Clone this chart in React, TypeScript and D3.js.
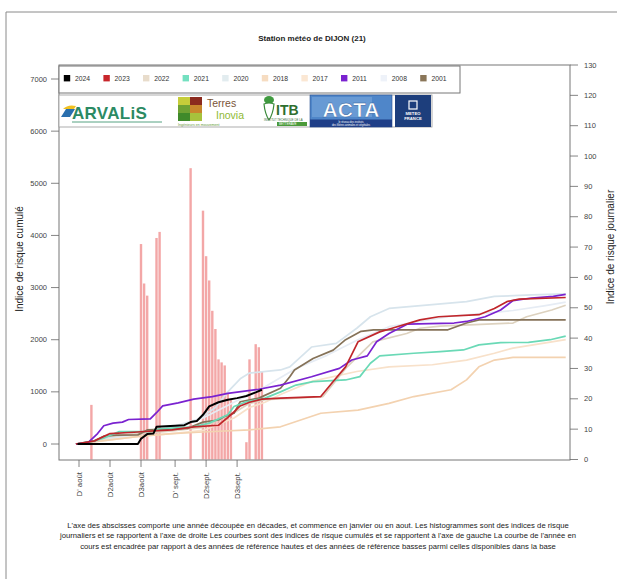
import React from 'react';
import * as d3 from 'd3';

const W = 617;
const H = 579;

// ---- data ----
const years = ['2024', '2023', '2022', '2021', '2020', '2018', '2017', '2011', '2008', '2001'];
const legendColors = ['#000000', '#c8262b', '#e8dccb', '#74e0c0', '#e2ecef', '#f6dcc1', '#fbe7d3', '#7a22d0', '#eef2f9', '#8a7659'];
const lineColors = ['#000000', '#c0262b', '#ddd2bf', '#6ad9b6', '#d7e4ec', '#f3d2b0', '#f8e1ca', '#7a22d0', '#e6ecf4', '#857258'];

const xTickDays = [0, 10, 20, 31, 41, 51];
const xTickLabels = ["D' août", 'D2août', 'D3août', "D' sept.", 'D2sept.', 'D3sept.'];
const leftTicks = [0, 1000, 2000, 3000, 4000, 5000, 6000, 7000];
const rightTicks = [0, 10, 20, 30, 40, 50, 60, 70, 80, 90, 100, 110, 120, 130];

const barDays = [4, 20, 21, 22, 25, 26, 36, 40, 41, 42, 43, 44, 45, 46, 47, 48, 49, 54, 55, 57, 58, 59];
const barValues = [18, 71, 58, 54, 73, 75, 96, 82, 67, 59, 49, 43, 33, 32, 31, 22, 20, 5.7, 33, 38, 37, 29];

const s2024 = [[-0.5, 0], [19, 0], [20, 100], [22, 190], [24, 200], [25, 330], [34, 360], [36, 420], [38, 440], [40, 560], [42, 720], [45, 800], [48, 850], [51, 880], [54, 920], [57, 990], [59, 1040]];
const s2023 = [[-1, 0], [5, 60], [10, 200], [19, 230], [24, 250], [30, 270], [37, 330], [45, 360], [49, 560], [52, 730], [55, 800], [59, 860], [65, 880], [78, 910], [82, 1200], [86, 1480], [90, 1960], [97, 2150], [101, 2220], [110, 2380], [116, 2440], [129, 2480], [134, 2600], [138, 2730], [142, 2780], [157, 2810]];
const s2022 = [[-1, 0], [5, 50], [10, 150], [20, 200], [30, 250], [40, 320], [50, 600], [55, 780], [60, 850], [70, 880], [78.7, 910], [86.5, 1480], [94.8, 1960], [105.7, 2120], [110, 2220], [116.5, 2260], [140, 2320], [144.4, 2440], [152.5, 2570], [157, 2660]];
const s2021 = [[-1, 0], [5, 60], [8, 115], [13, 237], [23, 240], [26, 290], [37, 330], [42, 400], [48, 560], [50, 720], [54, 810], [60, 880], [65, 1000], [70, 1130], [75.5, 1196], [86, 1228], [90.6, 1292], [94, 1548], [97, 1689], [108, 1740], [116.5, 1772], [124, 1804], [129, 1900], [136, 1945], [145, 1950], [152, 2000], [157, 2070]];
const s2020 = [[-1, 0], [5, 50], [10, 120], [20, 220], [30, 320], [38, 450], [44, 700], [48, 1000], [52, 1250], [55, 1360], [65, 1420], [68, 1480], [75, 1860], [83, 1930], [89.6, 2220], [94, 2440], [100, 2600], [113, 2670], [125, 2730], [134, 2830], [146, 2860], [157, 2880]];
const s2018 = [[-1, 0], [10, 80], [20, 150], [30, 200], [40, 230], [55, 270], [65, 330], [78, 590], [90, 650], [100, 780], [108, 910], [120, 1040], [125, 1230], [129, 1480], [134, 1610], [140, 1660], [157, 1660]];
const s2017 = [[-1, 0], [10, 80], [20, 150], [30, 200], [40, 260], [50, 500], [55, 700], [60, 800], [65, 950], [75, 1200], [89.6, 1390], [100, 1480], [114, 1520], [125, 1610], [134, 1740], [140, 1840], [152.5, 1960], [157, 2000]];
const s2011 = [[-1, 0], [3, 30], [6, 200], [8, 350], [11, 400], [14, 420], [16, 470], [23, 480], [25, 600], [27, 730], [32, 790], [37, 860], [43, 910], [48, 970], [58, 1050], [65, 1130], [75, 1290], [84, 1450], [88, 1610], [93, 1690], [96, 1960], [100, 2120], [106, 2300], [113, 2310], [121, 2320], [125, 2350], [131, 2440], [136, 2570], [140, 2750], [146, 2800], [153, 2830], [157, 2870]];
const s2008 = [[-1, 0], [10, 100], [25, 250], [40, 500], [50, 800], [60, 1100], [70, 1450], [80, 1700], [90, 2000], [100, 2250], [120, 2450], [140, 2560], [150, 2650], [157, 2720]];
const s2001 = [[-1, 0], [5, 60], [8, 150], [12, 170], [19, 175], [22, 270], [35, 300], [40, 420], [45, 460], [47, 530], [50, 590], [52, 810], [58, 880], [65, 1070], [68, 1290], [69.5, 1420], [75.5, 1640], [82, 1800], [86, 2000], [91, 2160], [95, 2190], [119, 2190], [125, 2320], [129, 2380], [157, 2380]];

const seriesByYear = [s2024, s2023, s2022, s2021, s2020, s2018, s2017, s2011, s2008, s2001];

const title = 'Station météo de DIJON (21)';
const leftLabel = 'Indice de risque cumulé';
const rightLabel = 'Indice de risque journalier';
const footnote = [
  "L'axe des abscisses comporte une année découpée en décades, et commence en janvier  ou en aout. Les histogrammes sont des indices de risque",
  "journaliers et se rapportent à l'axe de droite Les courbes sont des indices de risque cumulés et se rapportent à l'axe de gauche La courbe de l'année en",
  "cours est encadrée par rapport à des années de référence hautes et des années de référence basses parmi celles disponibles dans la base",
];

// ---- layout ----
const PL = 59, PR = 570, PT = 65, PB = 460;
const FONT = "'Liberation Sans', Arial, Helvetica, sans-serif";

export default function App() {
  const x = d3.scaleLinear().domain([0, 51]).range([79, 79 + 51 * 3.1]);
  const yL = d3.scaleLinear().domain([0, 7000]).range([444, 79]);
  const yR = d3.scaleLinear().domain([0, 130]).range([459.5, 65]);
  const line = d3.line<number[]>().x(d => x(d[0])).y(d => yL(d[1]));
  const barW = 2.4;
  const drawOrder = [8, 4, 6, 5, 2, 9, 3, 7, 1, 0];

  return (
    <svg width={W} height={H} viewBox={`0 0 ${W} ${H}`} style={{ position: 'absolute', left: 0, top: 0, background: '#fff' }} fontFamily={FONT}>
      <rect x={0} y={0} width={W} height={H} fill="#fff" />
      {/* outer frame */}
      <line x1={6} y1={12} x2={W} y2={12} stroke="#8a8a8a" strokeWidth={1} />
      <line x1={6} y1={12} x2={6} y2={H} stroke="#8a8a8a" strokeWidth={1} />

      <text x={312} y={41} textAnchor="middle" fontSize={8} fontWeight="bold" fill="#222">{title}</text>

      <defs>
        <clipPath id="plotclip">
          <rect x={PL} y={PT} width={PR - PL} height={PB - PT} />
        </clipPath>
      </defs>

      {/* bars */}
      <g clipPath="url(#plotclip)">
        {barDays.map((d, i) => (
          <rect key={'b' + i} x={x(d) - barW / 2} y={yR(barValues[i])} width={barW} height={yR(0) - yR(barValues[i])} fill="#ef8a8a" opacity={0.75} />
        ))}
        {drawOrder.map(i => (
          <path key={'l' + i} d={line(seriesByYear[i] as any) || ''} fill="none" stroke={lineColors[i]} strokeWidth={i === 0 ? 2 : 1.7} strokeLinejoin="round" />
        ))}
      </g>

      {/* box */}
      <rect x={PL} y={PT} width={PR - PL} height={PB - PT} fill="none" stroke="#777" strokeWidth={1} />

      {/* left axis */}
      {leftTicks.map(t => (
        <g key={'lt' + t}>
          <line x1={PL - 8} x2={PL} y1={yL(t)} y2={yL(t)} stroke="#666" strokeWidth={0.8} />
          <text x={PL - 12} y={yL(t)} dy="0.35em" textAnchor="end" fontSize={7.5} fill="#444">{t}</text>
        </g>
      ))}
      {/* right axis */}
      {rightTicks.map(t => (
        <g key={'rt' + t}>
          <line x1={PR} x2={PR + 8} y1={yR(t)} y2={yR(t)} stroke="#666" strokeWidth={0.8} />
          <text x={PR + 14} y={yR(t)} dy="0.35em" textAnchor="start" fontSize={7.5} fill="#444">{t}</text>
        </g>
      ))}
      {/* x axis */}
      {xTickDays.map((d, i) => (
        <g key={'xt' + i}>
          <line x1={x(d)} x2={x(d)} y1={PB} y2={PB + 7} stroke="#666" strokeWidth={0.8} />
          <text transform={`translate(${x(d)},${PB + 12}) rotate(-90)`} dy="0.35em" textAnchor="end" fontSize={7.8} fill="#444">{xTickLabels[i]}</text>
        </g>
      ))}

      <text transform={`translate(19,259) rotate(-90)`} textAnchor="middle" dominantBaseline="central" fontSize={10} fill="#222">{leftLabel}</text>
      <text transform={`translate(610,247) rotate(-90)`} textAnchor="middle" dominantBaseline="central" fontSize={10} fill="#222">{rightLabel}</text>

      {/* legend */}
      <rect x={PL} y={66} width={401} height={27} fill="#fff" stroke="#777" strokeWidth={1} />
      {years.map((yr, i) => {
        const cx = 67 + i * 39.6;
        return (
          <g key={'lg' + yr}>
            <rect x={cx - 3.2} y={75} width={6.4} height={6.4} fill={legendColors[i]} />
            <text x={cx + 8} y={78.2} dy="0.35em" fontSize={6.8} fill="#333">{yr}</text>
          </g>
        );
      })}

      {/* logos band */}
      <rect x={PL} y={95} width={373} height={32} fill="#fff" stroke="#999" strokeWidth={0.8} />
      {/* ARVALIS */}
      <path d="M61,117 L66,109 L75,109 L70,117 Z" fill="#2a6fae" />
      <path d="M63,109 Q68,104 76,106 L74,109 L66,109 Z" fill="#f0c020" />
      <text x={72} y={119} fontSize={17} fontWeight="bold" fill="#2b8a63" letterSpacing={0.3}>ARVALiS</text>
      <line x1={72} x2={162} y1={122} y2={122} stroke="#2b8a63" strokeWidth={0.8} />
      {/* Terres Inovia */}
      {[['#c6cd3a', '#8b2a1e'], ['#6ea233', '#c8872c'], ['#3f8a2a', '#a7c23c']].map((row, r) =>
        row.map((c, k) => <rect key={`ti${r}${k}`} x={178 + k * 12} y={97 + r * 8} width={12} height={8} fill={c} />)
      )}
      <text x={207} y={107} fontSize={10.5} fill="#7a5436">Terres</text>
      <text x={216} y={119} fontSize={10.5} fill="#8fb934">Inovia</text>
      <text x={178} y={125.5} fontSize={3.6} fill="#6a9a3a">Ingénieurs en mouvement</text>
      {/* ITB */}
      <ellipse cx={269} cy={100} rx={5} ry={4} fill="#3f9a3f" />
      <path d="M264,104 Q269,102 274,104 Q273,114 269,120 Q265,114 264,104 Z" fill="#fff" stroke="#3a8a3a" strokeWidth={1.2} />
      <text x={276} y={115} fontSize={14} fontWeight="bold" fill="#2f6f2f">ITB</text>
      <text x={264} y={121} fontSize={2.8} fill="#3a6a3a">INSTITUT TECHNIQUE DE LA</text>
      <rect x={277} y={122} width={30} height={4} fill="#4a9a3a" />
      <text x={279} y={125.2} fontSize={3} fill="#fff">BETTERAVE</text>
      {/* ACTA */}
      <rect x={310} y={95} width={82} height={32} fill="#4f86c9" stroke="#2a4f8f" strokeWidth={0.6} />
      <rect x={312} y={97} width={60} height={20} fill="#7aa9dc" opacity={0.6} />
      <text x={351} y={117} textAnchor="middle" fontSize={21} fontWeight="bold" fill="#fff" stroke="#2c5a9a" strokeWidth={0.4}>ACTA</text>
      <rect x={310} y={119.5} width={82} height={7.5} fill="#1f3f88" />
      <text x={351} y={122.6} textAnchor="middle" fontSize={2.6} fill="#fff">le réseau des instituts</text>
      <text x={351} y={125.8} textAnchor="middle" fontSize={2.6} fill="#fff">des filières animales et végétales</text>
      {/* METEO FRANCE */}
      <rect x={395} y={95} width={36} height={32} fill="#1d3e7c" />
      <rect x={409} y={101} width={8} height={8} fill="none" stroke="#fff" strokeWidth={1.2} />
      <text x={413} y={115} textAnchor="middle" fontSize={4.2} fontWeight="bold" fill="#fff">METEO</text>
      <text x={413} y={120} textAnchor="middle" fontSize={4.2} fontWeight="bold" fill="#fff">FRANCE</text>

      {/* footnote */}
      {footnote.map((l, i) => (
        <text key={'fn' + i} x={318} y={528 + i * 10.3} textAnchor="middle" fontSize={7.7} fill="#222">{l}</text>
      ))}
    </svg>
  );
}
